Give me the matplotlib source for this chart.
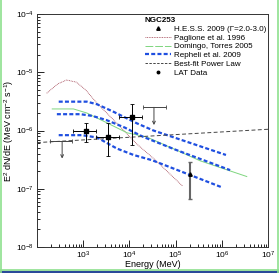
import numpy as np
import matplotlib
matplotlib.use("Agg")
import matplotlib.pyplot as plt
from matplotlib.lines import Line2D
from matplotlib.patches import Rectangle
from matplotlib.ticker import LogLocator, NullFormatter

plt.rcParams['font.family'] = ['Liberation Sans', 'DejaVu Sans']
plt.rcParams['mathtext.default'] = 'regular'

# LAT data points (MeV, MeV cm^-2 s^-1)
lat_E = [1150, 3400, 11200]
lat_E_lo = [610, 1900, 6100]
lat_E_hi = [1900, 5900, 19000]
lat_F = [9.7e-7, 7.6e-7, 1.73e-6]
lat_F_lo = [6.4e-7, 3.65e-7, 5.6e-7]
lat_F_hi = [1.33e-6, 1.33e-6, 2.85e-6]

# LAT upper limits
ul_E = [350, 34000]
ul_E_lo = [195, 19500]
ul_E_hi = [580, 62000]
ul_F = [6.5e-7, 2.5e-6]
ul_F_end = [3.3e-7, 1.24e-6]

# HESS point
hess_E = [2.1e5]
hess_F = [1.77e-7]
hess_F_lo = [6.7e-8]
hess_F_hi = [2.9e-7]

# best-fit power law
fit_E = [1e2, 1e7]
fit_F = [6.2e-7, 1.05e-6]

# models, log10 values
pag_logE = [2.21, 2.45, 2.64, 2.85, 3.05, 3.30, 3.73, 4.16, 4.56, 5.15]
pag_logF = [-5.36, -5.20, -5.133, -5.17, -5.30, -5.533, -5.876, -6.232, -6.506, -6.953]

dom_logE = [2.33, 2.79, 3.08, 3.44, 3.95, 4.37, 5.0, 5.53, 6.54]
dom_logF = [-5.63, -5.63, -5.70, -5.84, -6.04, -6.11, -6.33, -6.52, -6.79]

rep_up_logE = [2.47, 3.08, 3.30, 3.66, 4.16, 4.52, 6.09]
rep_up_logF = [-5.505, -5.505, -5.55, -5.68, -5.876, -6.0, -6.42]
rep_mid_logE = [2.43, 2.94, 3.20, 3.50, 3.90, 4.30, 5.0, 6.18]
rep_mid_logF = [-5.72, -5.72, -5.75, -5.82, -5.95, -6.11, -6.33, -6.68]
rep_lo_logE = [2.47, 2.97, 3.30, 3.73, 4.09, 4.49, 6.0]
rep_lo_logF = [-6.08, -6.08, -6.12, -6.31, -6.42, -6.51, -6.975]

W, H = 279, 273
fig = plt.figure(figsize=(W / 100, H / 100), dpi=100)
ax = fig.add_axes([37 / W, 1 - 247 / H, (268 - 37) / W, (247 - 14) / H])

blue = '#1f4fe0'
ax.plot(10 ** np.array(pag_logE), 10 ** np.array(pag_logF), color='#a04050', lw=0.6, ls=(0, (1, 1)))
ax.plot(10 ** np.array(dom_logE), 10 ** np.array(dom_logF), color='#7fd67f', lw=0.7)
for lx, ly in [(rep_up_logE, rep_up_logF), (rep_mid_logE, rep_mid_logF), (rep_lo_logE, rep_lo_logF)]:
    ax.plot(10 ** np.array(lx), 10 ** np.array(ly), color=blue, lw=1.6, dashes=(1.8, 1.0))
ax.plot(fit_E, fit_F, color='#444444', lw=0.7, dashes=(4, 2.5))

# LAT data
xerr = [np.array(lat_E) - np.array(lat_E_lo), np.array(lat_E_hi) - np.array(lat_E)]
yerr = [np.array(lat_F) - np.array(lat_F_lo), np.array(lat_F_hi) - np.array(lat_F)]
ax.errorbar(lat_E, lat_F, xerr=xerr, yerr=yerr, fmt='s', color='black', ms=2.2,
            lw=0.7, capsize=1.5, capthick=0.6)

# upper limits
for e, lo, hi, f, fe in zip(ul_E, ul_E_lo, ul_E_hi, ul_F, ul_F_end):
    ax.errorbar([e], [f], xerr=[[e - lo], [hi - e]], fmt='none', color='#444444',
                lw=0.7, capsize=1.5, capthick=0.6)
    ax.annotate('', xy=(e, fe), xytext=(e, f),
                arrowprops=dict(arrowstyle='->', color='#444444', lw=0.7,
                                shrinkA=0, shrinkB=0, mutation_scale=5))

# HESS
ax.errorbar(hess_E, hess_F, yerr=[[hess_F[0] - hess_F_lo[0]], [hess_F_hi[0] - hess_F[0]]],
            fmt='^', color='black', ecolor='#666666', ms=2.5, lw=1.5, capsize=1.2)

ax.set_xscale('log')
ax.set_yscale('log')
ax.set_xlim(1e2, 1e7)
ax.set_ylim(1e-8, 1e-4)

ax.xaxis.set_minor_locator(LogLocator(base=10, subs=np.arange(2, 10), numticks=20))
ax.yaxis.set_minor_locator(LogLocator(base=10, subs=np.arange(2, 10), numticks=20))
ax.xaxis.set_minor_formatter(NullFormatter())
ax.yaxis.set_minor_formatter(NullFormatter())
ax.tick_params(which='both', direction='in', top=False, right=False, labelsize=6,
               width=0.6, pad=2)
ax.tick_params(which='major', length=5)
ax.tick_params(which='minor', length=2.5)
ax.set_xticks([1e2, 1e3, 1e4, 1e5, 1e6, 1e7])
ax.set_xticklabels(['', '$10^{3}$', '$10^{4}$', '$10^{5}$', '$10^{6}$', '$10^{7}$'])
for s in ax.spines.values():
    s.set_linewidth(0.7)
    s.set_color('#333333')

ax.set_xlabel('Energy (MeV)', fontsize=6.5, labelpad=-1)
ax.set_ylabel('E$^{2}$ dN/dE (MeV cm$^{-2}$ s$^{-1}$)', fontsize=6.5, labelpad=0)

handles = [
    Line2D([], [], ls='none', marker='^', color='black', ms=2.5),
    Line2D([], [], color='#a04050', lw=0.6, ls=(0, (1, 1))),
    Line2D([], [], color='#7fd67f', lw=0.7, dashes=(8, 2)),
    Line2D([], [], color=blue, lw=1.6, dashes=(1.8, 1.0)),
    Line2D([], [], color='#444444', lw=0.7, dashes=(2.5, 1.5)),
    Line2D([], [], ls='none', marker='o', color='black', ms=1.8),
]
labels = ['H.E.S.S. 2009 (\u0393=2.0-3.0)', 'Paglione et al. 1996',
          'Domingo, Torres 2005', 'Repheli et al. 2009', 'Best-fit Power Law', 'LAT Data']
leg = ax.legend(handles, labels, loc='upper left', bbox_to_anchor=(0.462, 0.99),
                frameon=False, fontsize=5.8, handlelength=3.3, handletextpad=0.4,
                labelspacing=0.14, borderpad=0.1, borderaxespad=0,
                title='NGC253', title_fontproperties={'size': 5.8, 'weight': 'bold'},
                alignment='left')

# border of the screenshot
fig.add_artist(Line2D([0.5 / W, 0.5 / W], [0, 1], color='#8ee08e', lw=1.2, transform=fig.transFigure))
fig.add_artist(Line2D([277.5 / W, 277.5 / W], [0, 1], color='#8ee08e', lw=1.2, transform=fig.transFigure))
fig.add_artist(Line2D([0, 1], [3.5 / H, 3.5 / H], color='#8ee08e', lw=1.2, transform=fig.transFigure))
fig.add_artist(Rectangle((0, 0), 1, 2.5 / H, color='#2a4a9a', transform=fig.transFigure))

fig.savefig('out.png', dpi=100)
